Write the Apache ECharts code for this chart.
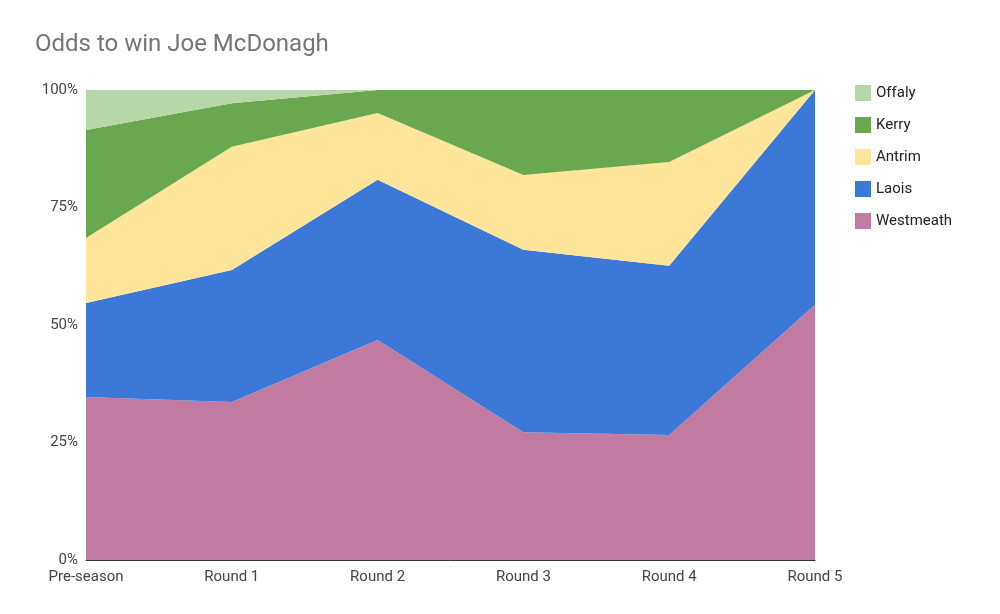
<!DOCTYPE html>
<html>
<head>
<meta charset="utf-8">
<script src="https://cdn.jsdelivr.net/npm/echarts@6/dist/echarts.min.js"></script>
<style>html,body{margin:0;padding:0;background:#fff}#main{width:1000px;height:614px}</style>
</head>
<body>
<div id="main"></div>
<script>
var rounds = ['Pre-season', 'Round 1', 'Round 2', 'Round 3', 'Round 4', 'Round 5'];
var westmeath = [34.7, 33.6, 46.8, 27.2, 26.6, 54.3];
var laois = [20.0, 28.1, 34.1, 38.8, 36.0, 45.7];
var antrim = [13.8, 26.2, 14.2, 15.9, 22.1, 0];
var kerry = [23.0, 9.3, 4.9, 18.1, 15.3, 0];
var offaly = [8.5, 2.8, 0, 0, 0, 0];

function area(name, data, color) {
    return {
        name: name, type: 'line', stack: 'total', data: data,
        symbol: 'none', lineStyle: {width: 0}, itemStyle: {color: color},
        areaStyle: {color: color, opacity: 1}
    };
}

var myChart = echarts.init(document.getElementById('main'));
var option = {
    title: {
        text: 'Odds to win Joe McDonagh', left: 30, top: 28,
        textStyle: {fontFamily: 'Roboto', fontSize: 24, fontWeight: 'normal', color: '#757575'}
    },
    legend: {
        orient: 'vertical', left: 850, top: 80, itemGap: 16, itemWidth: 16, itemHeight: 16,
        icon: 'rect',
        data: ['Offaly', 'Kerry', 'Antrim', 'Laois', 'Westmeath'],
        textStyle: {fontFamily: 'Roboto', fontSize: 15, color: '#222'}
    },
    grid: {left: 86, right: 185, top: 90, bottom: 54},
    xAxis: {
        type: 'category', boundaryGap: false, data: rounds,
        axisLine: {lineStyle: {color: '#333'}}, axisTick: {show: false},
        axisLabel: {fontFamily: 'Roboto', fontSize: 15, color: '#444', margin: 10}
    },
    yAxis: {
        type: 'value', min: 0, max: 100, interval: 25,
        splitLine: {show: false}, axisLine: {show: false}, axisTick: {show: false},
        axisLabel: {formatter: '{value}%', fontFamily: 'Roboto', fontSize: 15, color: '#444'}
    },
    series: [
        area('Westmeath', westmeath, '#c27ba0'),
        area('Laois', laois, '#3c78d8'),
        area('Antrim', antrim, '#ffe599'),
        area('Kerry', kerry, '#6aa84f'),
        area('Offaly', offaly, '#b7d7a8')
    ]
};
myChart.setOption(option);
</script>
</body>
</html>
